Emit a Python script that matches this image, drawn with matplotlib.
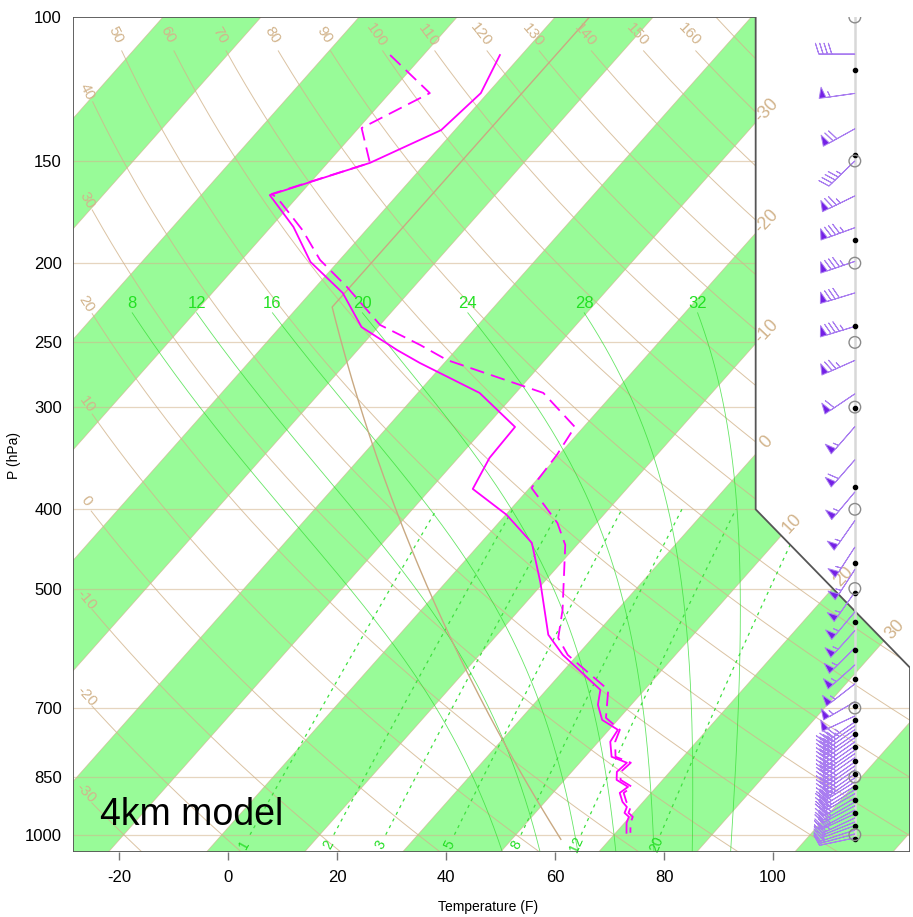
import numpy as np
import matplotlib
matplotlib.use('Agg')
import matplotlib.pyplot as plt
from matplotlib.patches import Polygon

plt.rcParams['font.family'] = ['Liberation Sans', 'DejaVu Sans']

# ---------------- data ----------------
temp_p = [111.3, 123.9, 137.5, 150.8, 165.1, 180.6, 199.3, 217.5, 239.4, 255.4, 264.9, 288.2,
          317.2, 346.1, 377.7, 406.3, 439.6, 492.0, 569.5, 602.7, 665.1, 693.7, 723.8, 744.3,
          769.6, 803.0, 816.6, 837.8, 856.9, 874.0, 889.0, 911.9, 924.9, 940.5, 951.0, 967.0, 994.7]
temp_c = [-62.2, -60.7, -61.4, -65.7, -73.0, -67.7, -62.8, -56.7, -51.7, -46.0, -42.5, -33.7,
          -27.0, -26.8, -25.7, -19.9, -14.8, -10.3, -4.8, -1.5, 5.5, 6.6, 8.4, 10.9,
          11.2, 12.7, 14.8, 14.6, 15.3, 17.1, 16.8, 17.9, 18.8, 19.1, 19.9, 20.2, 21.1]

dash_p = [111.3, 123.9, 136.7, 150.8, 164.6, 166.9, 182.2, 198.2, 213.9, 238.0, 251.8, 262.7,
          288.2, 317.2, 343.2, 376.6, 415.6, 442.2, 530.9, 574.6, 602.7, 665.1, 719.6, 744.3,
          769.6, 803.0, 816.6, 837.8, 856.9, 874.0, 889.0, 911.9, 924.9, 940.5, 951.0, 967.0, 994.7]
dash_c = [-73.4, -65.9, -69.7, -65.7, -72.9, -71.8, -66.5, -62.0, -56.8, -50.0, -44.1, -40.0,
          -27.2, -20.9, -20.2, -19.8, -14.0, -11.2, -5.6, -3.5, -1.0, 6.3, 8.6, 11.1,
          11.7, 13.1, 15.2, 15.0, 15.7, 17.5, 17.2, 18.3, 19.2, 19.5, 20.3, 20.6, 21.5]

wind_p = [111, 124, 137, 150, 165.5, 181, 199, 217.5, 239, 263, 289, 317, 348, 381, 413, 445,
          474, 505, 534, 563, 591, 620, 654, 688, 716,
          728, 736, 744, 753, 761, 770, 779, 788, 796, 805, 815, 824, 833, 843, 852,
          862, 872, 881, 891, 902, 912, 922, 933, 943, 954, 965, 975, 987, 998, 1009]
wind_dir = [270, 262, 241, 226, 244, 250, 251, 253, 253, 246, 236, 221, 221, 220, 215, 213,
            213, 215, 220, 222, 225, 228, 232, 240, 245,
            235, 235, 235, 235, 235, 235, 235, 235, 235, 235, 235, 235, 235, 235, 235,
            238, 238, 238, 240, 240, 240, 242, 242, 245, 245, 248, 250, 252, 255, 258]
wind_spd = [40, 55, 70, 45, 75, 85, 85, 80, 85, 75, 60, 55, 60, 55, 55, 55,
            55, 55, 55, 55, 55, 55, 55, 55, 50,
            45, 45, 40, 40, 40, 40, 40, 35, 35, 35, 35, 35, 35, 35, 35,
            35, 30, 30, 30, 30, 30, 30, 25, 25, 25, 20, 20, 15, 15, 10]

height_p = [1013.25, 977.2, 942.1, 908.1, 875.1, 843.1, 812.0, 781.9, 752.6, 724.3, 696.8,
            644.4, 595.2, 549.2, 506.0, 465.6, 376.0, 300.9, 238.4, 187.5, 147.5, 116.0]
mand_p = [100, 150, 200, 250, 300, 400, 500, 700, 850, 1000]

xtick_f = [-20, 0, 20, 40, 60, 80, 100]
ptick = [100, 150, 200, 250, 300, 400, 500, 700, 850, 1000]
theta_vals = list(range(-30, 180, 10))
mix_vals = [1, 2, 3, 5, 8, 12, 20]
moist_vals = [8, 12, 16, 20, 24, 28, 32]
iso_label_vals = [-30, -20, -10, 0, 10, 20, 30]

# ---------------- skew-T transform ----------------
YMIN, YMAX = -0.9346217, 44.061
XMIN, XMAX = -19.0, 27.1


def sky(p):
    return 132.182 - 44.061 * np.log10(np.asarray(p, dtype=float))


def skx(t, p):
    return 0.54 * np.asarray(t, dtype=float) + 0.90692 * sky(p)


TAN = '#D2B48C'
GREEN_FILL = '#98FB98'

fig = plt.figure(figsize=(9.13, 9.17), dpi=100)
ax = fig.add_axes([73 / 913, 65 / 917, 837 / 913, 835 / 917])
ax.set_xlim(XMIN, XMAX)
ax.set_ylim(YMIN, YMAX)
for s in ax.spines.values():
    s.set_visible(False)

ox = [-19.0, 27.1, 27.1, 18.6, 18.6, -19.0, -19.0]
oy = [YMIN, YMIN, 9.0, 17.53, YMAX, YMAX, YMIN]
clip = Polygon(np.c_[ox, oy], closed=True, transform=ax.transData,
               facecolor='none', edgecolor='#555555', lw=1.3, zorder=10)
ax.add_patch(clip)

# green isotherm bands
for t0 in range(-100, 60, 20):
    t1 = t0 + 10
    poly = Polygon([(0.54 * t0 + 0.90692 * YMIN, YMIN), (0.54 * t1 + 0.90692 * YMIN, YMIN),
                    (0.54 * t1 + 0.90692 * YMAX, YMAX), (0.54 * t0 + 0.90692 * YMAX, YMAX)],
                   closed=True, facecolor=GREEN_FILL, edgecolor='none', zorder=1)
    ax.add_patch(poly)
    poly.set_clip_path(clip)

# isotherm lines
for t in range(-100, 60, 10):
    ln, = ax.plot([0.54 * t + 0.90692 * YMIN, 0.54 * t + 0.90692 * YMAX], [YMIN, YMAX],
                  color=TAN, lw=0.6, alpha=0.7, zorder=2)
    ln.set_clip_path(clip)

# isobars
for p in ptick[1:]:
    ln, = ax.plot([XMIN, XMAX], [sky(p), sky(p)], color=TAN, lw=0.9, alpha=0.55, zorder=2)
    ln.set_clip_path(clip)

# dry adiabats
XL = -18.0
pp = np.linspace(1050, 110, 500)
for th in theta_vals:
    p_arr = pp if th < 170 else np.linspace(1050, 100, 500)
    T = (th + 273.15) * (p_arr / 1000.0) ** 0.2857 - 273.15
    x = skx(T, p_arr)
    y = sky(p_arr)
    m = x >= XL
    ln, = ax.plot(x[m], y[m], color=TAN, lw=0.7, alpha=0.8, zorder=2)
    ln.set_clip_path(clip)
    if th >= 170:
        continue
    xe, ye = x[m][-1], y[m][-1]
    d0 = ax.transData.transform((xe, ye))
    d1 = ax.transData.transform((x[m][-8], y[m][-8]))
    ang = np.degrees(np.arctan2(d1[1] - d0[1], d1[0] - d0[0]))
    if m[-1]:
        off = (-4.5, 11.5)
    else:
        off = (-4.0, 7.0)
    ax.annotate(str(th), (xe, ye), xytext=off, textcoords='offset points',
                ha='center', va='center', rotation=ang, color=TAN, fontsize=11, zorder=9)

# mixing ratio lines
for w in mix_vals:
    p_arr = np.linspace(1000, 400, 100)
    e = w * p_arr / (622.0 + w)
    lg = np.log(e / 6.112)
    td = 243.5 * lg / (17.67 - lg)
    x = skx(td, p_arr)
    y = sky(p_arr)
    ln, = ax.plot(x, y, color='#3ee03e', lw=0.9, dashes=(2.5, 3.5), zorder=3)
    ln.set_clip_path(clip)
    pl = 1028.0
    el = w * pl / (622.0 + w)
    lgl = np.log(el / 6.112)
    tdl = 243.5 * lgl / (17.67 - lgl)
    d0 = ax.transData.transform((x[0], y[0]))
    d1 = ax.transData.transform((x[10], y[10]))
    ang = np.degrees(np.arctan2(d1[1] - d0[1], d1[0] - d0[0]))
    ax.text(float(skx(tdl, pl)), float(sky(pl)), str(w), color='#22dd22', fontsize=10,
            rotation=ang, ha='center', va='center', zorder=9)

# moist adiabats (pseudo-adiabatic integration)
Rd, cp, Lv, eps = 287.04, 1005.7, 2.501e6, 0.622


def es(T):
    return 6.112 * np.exp(17.67 * (T - 273.15) / (T - 29.65))


def dTdp(T, p):
    e_s = es(T)
    rs = eps * e_s / (p - e_s)
    return ((Rd * T + Lv * rs) / p) / (cp + Lv * Lv * rs * eps / (Rd * T * T))


def integrate(T0, p0, p1, n=300):
    ps = np.linspace(p0, p1, n)
    Ts = [T0]
    for i in range(n - 1):
        h = ps[i + 1] - ps[i]
        T, p = Ts[-1], ps[i]
        k1 = dTdp(T, p)
        k2 = dTdp(T + h * k1 / 2, p + h / 2)
        k3 = dTdp(T + h * k2 / 2, p + h / 2)
        k4 = dTdp(T + h * k3, p + h)
        Ts.append(T + h * (k1 + 2 * k2 + 2 * k3 + k4) / 6)
    return ps, np.array(Ts)


for tw in moist_vals:
    pu, Tu = integrate(tw + 273.15, 1000.0, 230.0)
    pd, Td_ = integrate(tw + 273.15, 1000.0, 1050.0, 30)
    p_all = np.r_[pd[::-1], pu[1:]]
    T_all = np.r_[Td_[::-1], Tu[1:]] - 273.15
    x = skx(T_all, p_all)
    y = sky(p_all)
    ln, = ax.plot(x, y, color='#33dd33', lw=0.6, alpha=0.75, zorder=3)
    ln.set_clip_path(clip)
    ax.annotate(str(tw), (x[-1], y[-1]), xytext=(0, 1.5), textcoords='offset points',
                ha='center', va='bottom', color='#22e022', fontsize=12, zorder=9)

# isotherm labels on right boundary
for t in iso_label_vals:
    a = 0.54 * t
    yv = (18.6 - a) / 0.90692
    if yv >= 17.53:
        xc, yc = 18.6, yv
    else:
        s = 8.5 / 8.53
        yc = (18.6 + 17.53 * s - a) / (0.90692 + s)
        xc = a + 0.90692 * yc
    ax.annotate(str(t), (xc, yc), xytext=(8, 8.5), textcoords='offset points',
                ha='center', va='center', rotation=47, color=TAN, fontsize=13, zorder=9,
                annotation_clip=False)

# standard atmosphere
p_sa = np.linspace(1013.25, 226.32, 200)
z_sa = 44.3308 * (1 - (p_sa / 1013.25) ** 0.190263)
t_sa = 15.0 - 6.5 * z_sa
p_sa = np.r_[p_sa, 100.0]
t_sa = np.r_[t_sa, -56.5]
ln, = ax.plot(skx(t_sa, p_sa), sky(p_sa), color='#c9a982', lw=1.0, zorder=4)
ln.set_clip_path(clip)

# profiles
ax.plot(skx(temp_c, temp_p), sky(temp_p), color='#ff00ff', lw=1.3, zorder=6)
ax.plot(skx(dash_c, dash_p), sky(dash_p), color='#ff00ff', lw=1.3, dashes=(8, 4), zorder=6)

# wind staff, markers, barbs
XS = (855 - 73) / 18.16 - 19
ax.plot([XS, XS], [sky(1013.25), sky(100)], color='#d8d8d8', lw=1.8, zorder=11)
wd = np.radians(np.array(wind_dir, dtype=float))
ws = np.array(wind_spd, dtype=float)
u = -ws * np.sin(wd)
v = -ws * np.cos(wd)
ax.barbs(np.full(len(wind_p), XS), sky(wind_p), u, v, length=7.2, pivot='tip',
         barbcolor='#a97df0', flagcolor='#7420e6', linewidth=0.7,
         sizes=dict(spacing=0.12, height=0.3, width=0.19), zorder=12)
ax.scatter(np.full(len(height_p), XS), sky(height_p), s=9, color='black', zorder=13)
ax.scatter(np.full(len(mand_p), XS), sky(mand_p), s=70, facecolors='none',
           edgecolors='#8a8a8a', linewidths=1.0, zorder=13)

# ticks
ax.set_xticks([0.3 * (f - 32) + 0.90692 * YMIN for f in xtick_f])
ax.set_xticklabels([str(f) for f in xtick_f])
ax.set_yticks(sky(ptick))
ax.set_yticklabels([str(p) for p in ptick])
ax.tick_params(axis='x', length=6, width=1, color='#777777', direction='out', pad=7, labelsize=12)
ax.tick_params(axis='y', length=0, pad=8, labelsize=12)

ax.text(-17.51, 0.527, '4km model', fontsize=27, color='black', ha='left', va='baseline', zorder=14)
fig.text(488 / 913, 1 - 907 / 917, 'Temperature (F)', ha='center', va='center', fontsize=10)
fig.text(14 / 913, 1 - 455 / 917, 'P (hPa)', ha='center', va='center', fontsize=10, rotation=90)

fig.savefig('out.png', dpi=100)
